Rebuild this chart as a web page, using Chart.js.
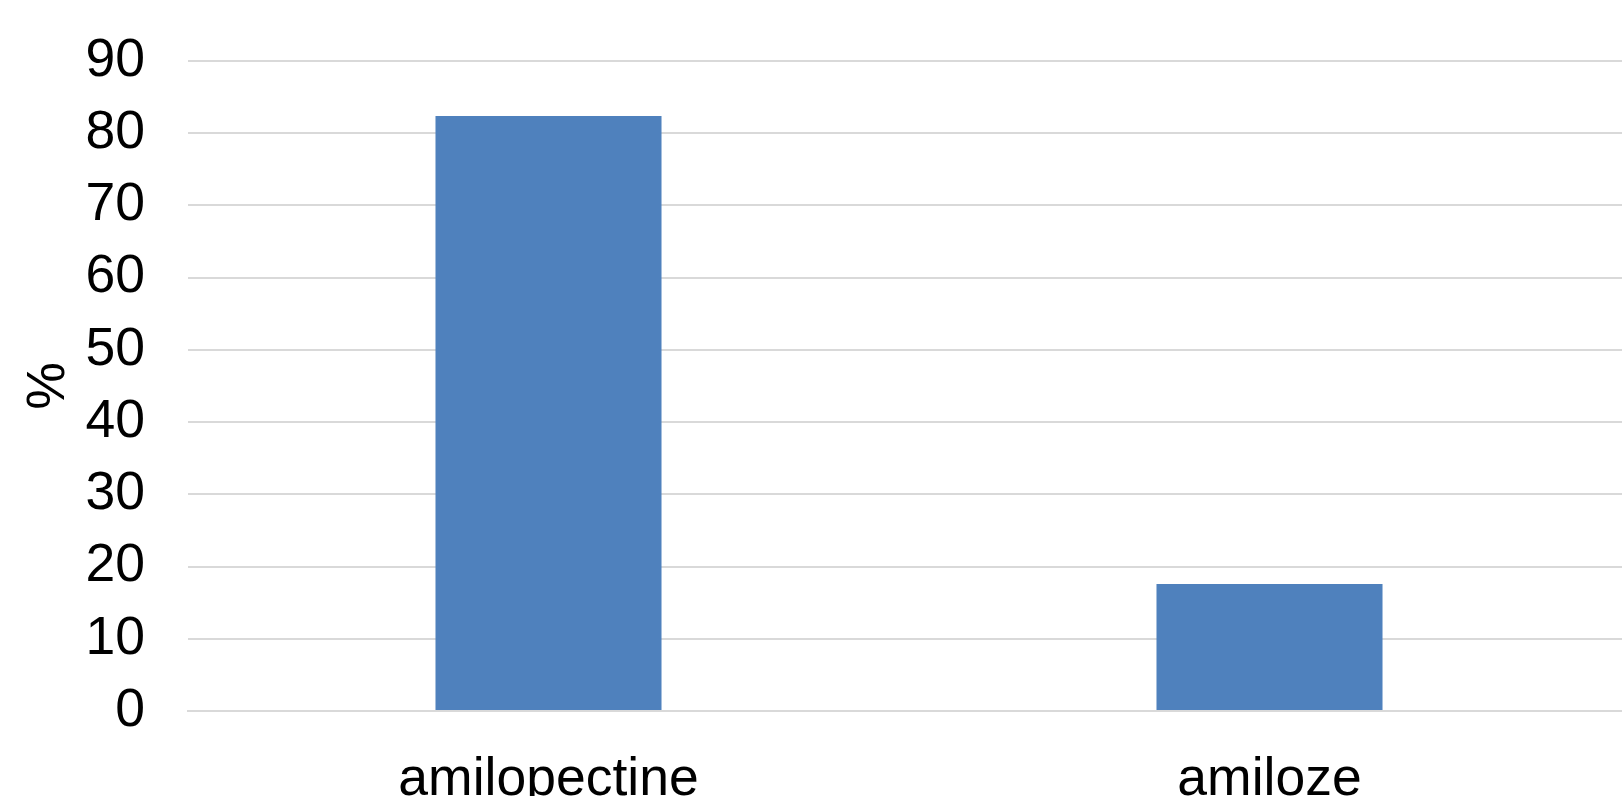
<!DOCTYPE html>
<html>
<head>
<meta charset="utf-8">
<script src="https://cdn.jsdelivr.net/npm/chart.js@4/dist/chart.umd.min.js"></script>
<style>
  html, body { margin: 0; padding: 0; background: #ffffff; overflow: hidden; }
  #wrap { position: absolute; left: 0; top: 0; width: 1630px; height: 830px; }
</style>
</head>
<body>
<div id="wrap"><canvas id="chart" width="1630" height="830"></canvas></div>
<script>
// Starch composition: share of amylopectin and amylose (%)
const categories = ['amilopectine', 'amiloze'];
const percentValues = [82.4, 17.6];
const yTicks = [0, 10, 20, 30, 40, 50, 60, 70, 80, 90];

const FONT = "'Liberation Sans', Arial, sans-serif";
const FONT_SIZE = 53.5;

new Chart(document.getElementById('chart'), {
  type: 'bar',
  data: {
    labels: categories,
    datasets: [{
      data: percentValues,
      backgroundColor: '#4f81bd',
      borderWidth: 0,
      barPercentage: 0.3135,
      categoryPercentage: 1.0
    }]
  },
  options: {
    responsive: false,
    animation: false,
    devicePixelRatio: 1,
    layout: { padding: { top: 61, right: 0, bottom: 0, left: 0 } },
    plugins: {
      legend: { display: false },
      tooltip: { enabled: false }
    },
    scales: {
      x: {
        grid: { display: false },
        border: { display: true, color: '#d9d9d9', width: 2 },
        ticks: {
          color: '#000000',
          font: { family: FONT, size: FONT_SIZE },
          padding: 29,
          maxRotation: 0,
          autoSkip: false
        },
        afterFit: (scale) => { scale.height = 119; }
      },
      y: {
        min: 0,
        max: 90,
        afterBuildTicks: (scale) => { scale.ticks = yTicks.map(v => ({ value: v })); },
        grid: { color: '#d9d9d9', lineWidth: 2, drawTicks: false },
        border: { display: false },
        ticks: {
          color: '#000000',
          font: { family: FONT, size: FONT_SIZE },
          padding: 43
        },
        title: {
          display: true,
          text: '%',
          color: '#000000',
          font: { family: FONT, size: FONT_SIZE },
          padding: { top: 17, bottom: 0 }
        },
        afterFit: (scale) => {
          // fixed axis width; the top/bottom labels may overhang the plot edges
          scale.width = 188;
          scale.paddingTop = 0;
          scale.paddingBottom = 0;
        }
      }
    }
  }
});
</script>
</body>
</html>
